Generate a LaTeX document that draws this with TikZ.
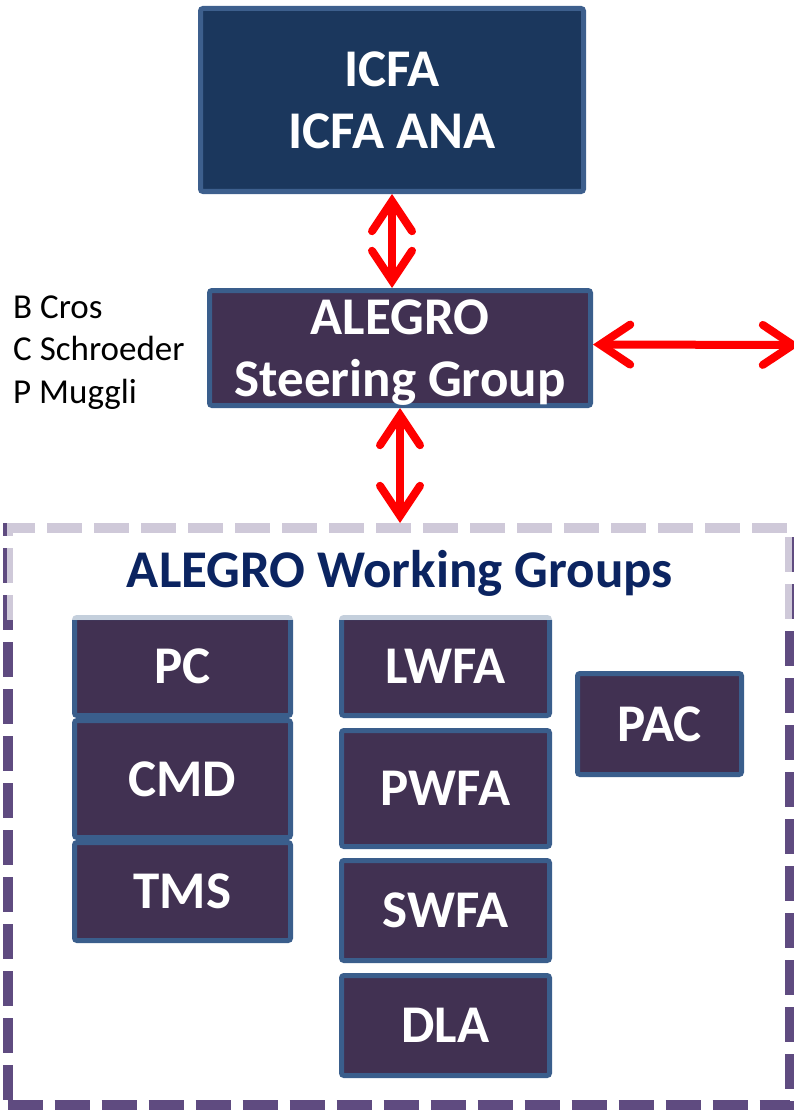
\documentclass[tikz,border=0pt]{standalone}
\usepackage{fontspec}
\setmainfont{Carlito}
\usetikzlibrary{arrows.meta}
\definecolor{boxfill}{HTML}{413152}
\definecolor{boxline}{HTML}{3A5E8C}
\definecolor{icfafill}{HTML}{1B375D}
\definecolor{icfaline}{HTML}{3D5F8D}
\definecolor{framecol}{HTML}{5F4B80}
\definecolor{titlecol}{HTML}{0B2461}
\definecolor{arrowred}{HTML}{FF0000}
\begin{document}
\begin{tikzpicture}[x=1pt,y=-1pt,
  box/.style={draw=boxline, line width=5pt, fill=boxfill, rounded corners=2.5pt,
    text=white, font=\fontsize{53}{62}\selectfont\bfseries, inner sep=0pt, align=center},
  namestyle/.style={anchor=base west, inner sep=0pt, font=\fontsize{35}{42}\selectfont},
  dbl/.style={draw=arrowred, line width=8pt, >={Straight Barb[length=30pt, width=40pt, line cap=round, line join=miter]}, <->},
  wgframe/.style={draw=framecol, line width=10pt, dash pattern=on 35pt off 12pt, inner sep=0pt}
]
\useasboundingbox (0,0) rectangle (794,1110);

% working groups frame
\node[wgframe, minimum width=782.5pt, minimum height=577pt] (wg) at (398.75,816.5) {};

% top boxes
\node[box, fill=icfafill, draw=icfaline, minimum width=383pt, minimum height=183pt] (icfa) at (392,100) {ICFA\\ICFA ANA};
\node[box, text depth=0pt, minimum width=381pt, minimum height=115pt] (st) at (400,348) {ALEGRO\\Steering Group};

% names
\node[namestyle] (n1) at (13,318) {B Cros};
\node[namestyle] (n2) at (13,360.5) {C Schroeder};
\node[namestyle] (n3) at (13,403) {P Muggli};

% working group boxes
\node[box, minimum width=216pt, minimum height=98pt] (pc) at (182.5,666.5) {PC};
\node[box, minimum width=216pt, minimum height=117pt] (cmd) at (182.5,779) {CMD};
\node[box, minimum width=216pt, minimum height=98pt] (tms) at (182.5,891.5) {TMS};
\node[box, minimum width=208pt, minimum height=98pt] (lwfa) at (445.5,666.5) {LWFA};
\node[box, minimum width=208pt, minimum height=116pt] (pwfa) at (445.5,788.5) {PWFA};
\node[box, minimum width=208pt, minimum height=100pt] (swfa) at (445.5,910.5) {SWFA};
\node[box, minimum width=208pt, minimum height=100pt] (dla) at (445.5,1025.5) {DLA};
\node[box, minimum width=164pt, minimum height=101pt] (pac) at (659.5,724) {PAC};

% translucent title band
\fill[white, opacity=0.7] (7,516) rectangle (792,620);
\node[inner sep=0pt, text=titlecol, font=\fontsize{53}{62}\selectfont\bfseries] (title) at (400,573) {ALEGRO Working Groups};

% arrows
\coordinate (right) at (800,345);
\draw[dbl] (icfa.south) -- (icfa.south |- st.north);
\draw[dbl] (st.south) -- (st.south |- wg.north);
\draw[dbl] ([yshift=3.5pt]st.east) -- (right);
\end{tikzpicture}
\end{document}
